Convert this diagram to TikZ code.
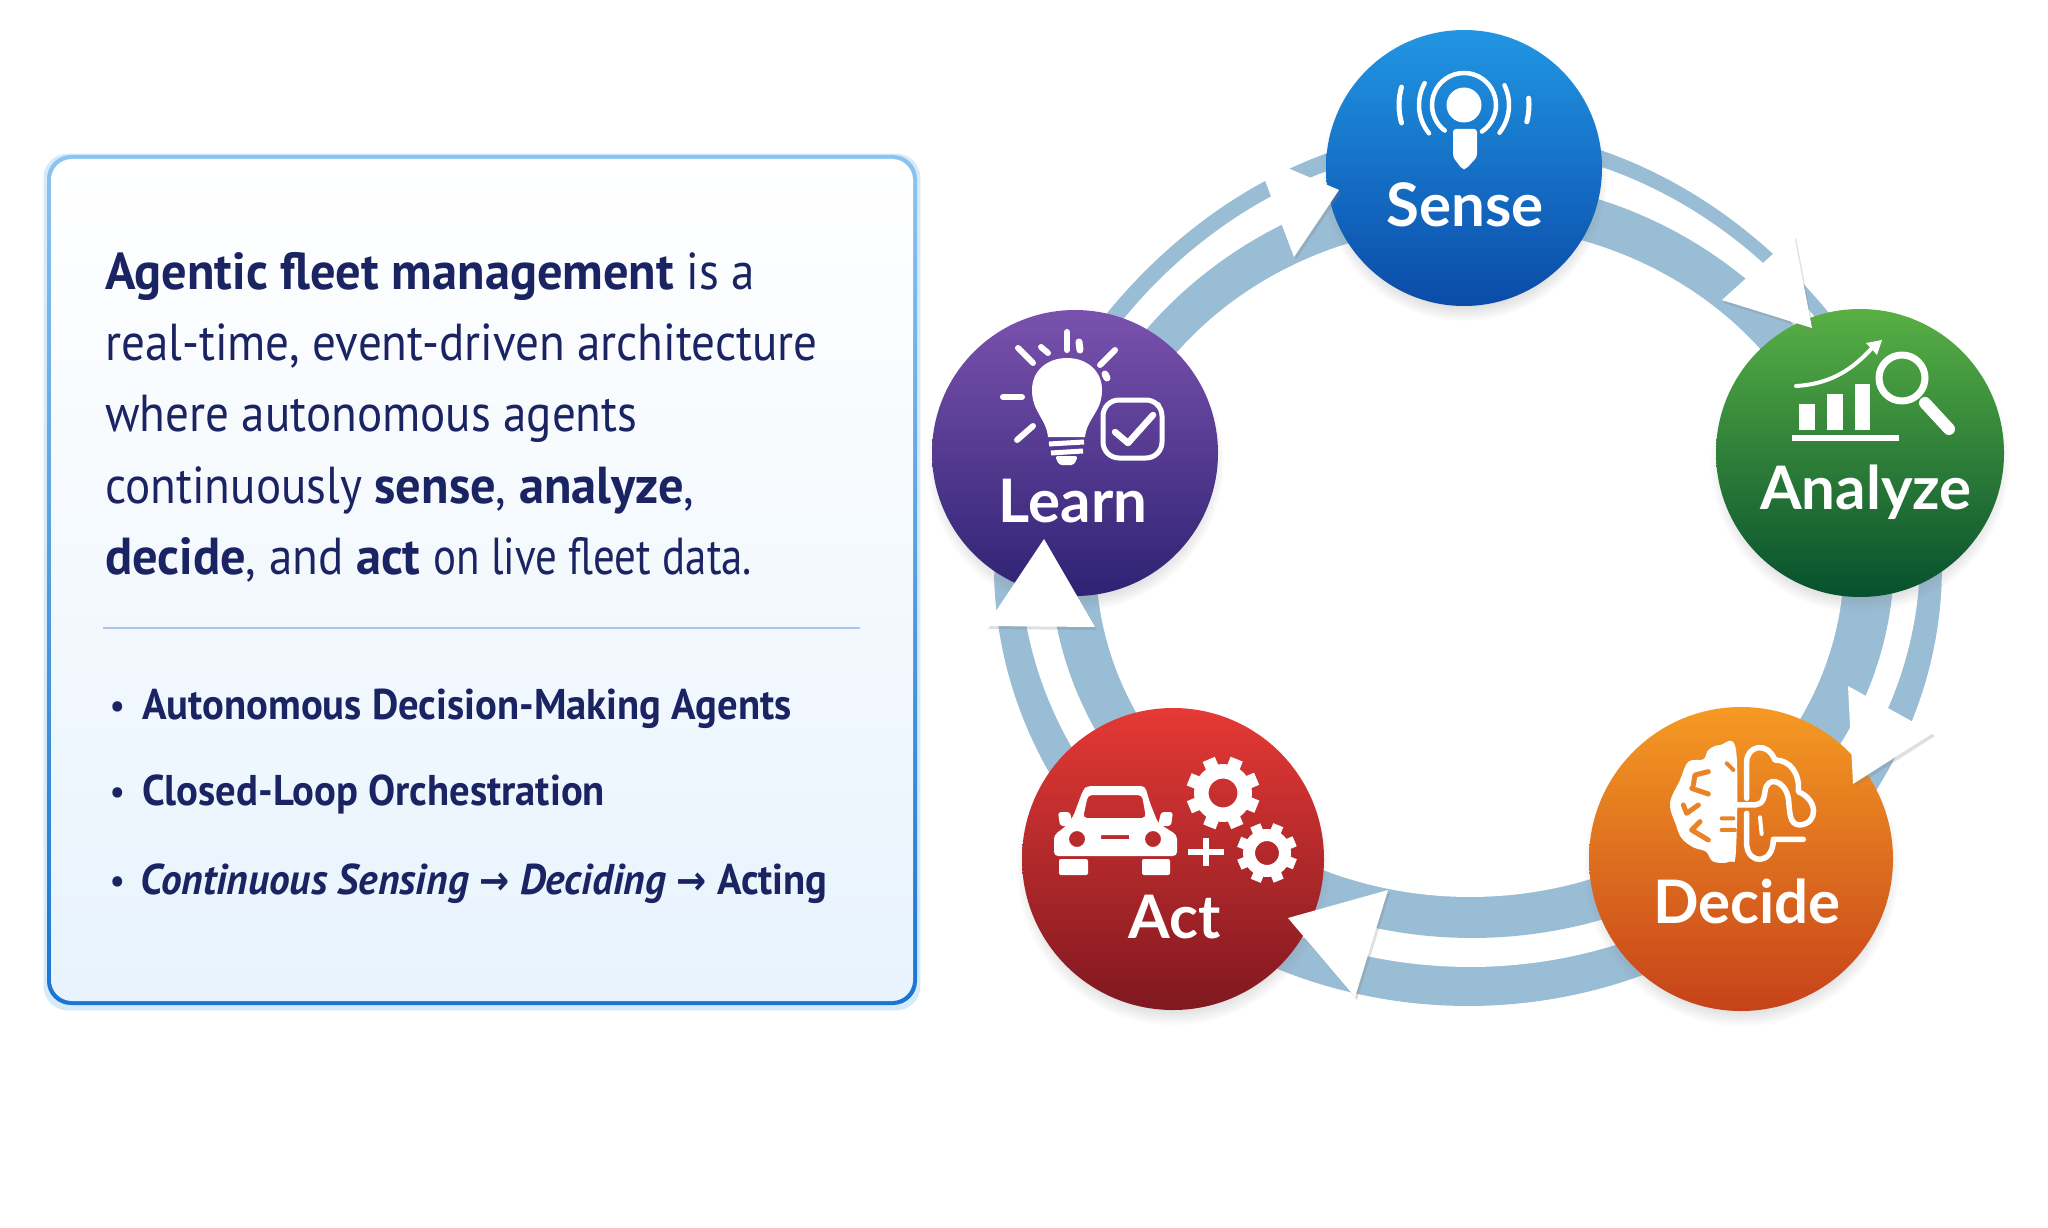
\documentclass[tikz,border=0pt]{standalone}
\usepackage{fontspec}
\usetikzlibrary{shadows,positioning}
\newfontfamily\panelfont[UprightFeatures={FakeStretch=0.905},BoldFeatures={FakeStretch=0.97}]{PT Sans}
\newfontfamily\tightfont[FakeStretch=0.825]{PT Sans}
\newfontfamily\listfont[BoldFeatures={FakeStretch=0.945},BoldItalicFeatures={FakeStretch=0.96}]{PT Sans}
\newfontfamily\arrowfont[FakeStretch=0.9]{DejaVu Sans}
\newfontfamily\stagefont{Lato}
\definecolor{navy}{HTML}{1B2463}
\definecolor{ringblue}{HTML}{9ABDD6}
\definecolor{orangecut}{HTML}{EA8226}
\definecolor{rimtop}{HTML}{8CC4F0}
\definecolor{rimbottom}{HTML}{1976D2}
\definecolor{panelmid}{HTML}{F8FBFE}
\definecolor{panelbottom}{HTML}{E8F3FD}
\definecolor{rulecolor}{HTML}{A9C6E8}
\definecolor{senseA}{HTML}{2196E3}
\definecolor{senseB}{HTML}{0A74CF}
\definecolor{senseC}{HTML}{0A4BA8}
\definecolor{analyzeA}{HTML}{58B044}
\definecolor{analyzeB}{HTML}{2A8A3A}
\definecolor{analyzeC}{HTML}{07502E}
\definecolor{decideA}{HTML}{F59A23}
\definecolor{decideB}{HTML}{E27A26}
\definecolor{decideC}{HTML}{C6421A}
\definecolor{actA}{HTML}{E53935}
\definecolor{actB}{HTML}{BE2A2E}
\definecolor{actC}{HTML}{7F1820}
\definecolor{learnA}{HTML}{7A52AD}
\definecolor{learnB}{HTML}{523A94}
\definecolor{learnC}{HTML}{2E2273}
% small cog: centre x, y, tooth radius, body radius, hole radius
\newcommand{\cogicon}[5]{
  \begin{scope}[shift={(#1,#2)}]
    \draw [white, line width=#4-#5] (0,0) circle [radius=(#4+#5)/2];
    \foreach \a in {0,45,...,315}
      \draw [white, line width=0.36*#3, line cap=butt] (\a+22:#4-2) -- (\a+22:#3);
  \end{scope}
}
% egg shaped loop: centre x, y, half width, half height, narrowing of the upper half
\newcommand{\ringloop}[5]{plot [domain=0:360, samples=120, smooth] ({#1+#3*cos(\x)*(1+#5*min(sin(\x),0))},{#2+#4*sin(\x)}) -- cycle}
\begin{document}
\begin{tikzpicture}
  [x=1pt,y=-1pt,
  stage/.style n args={3}{circle, inner sep=0pt, top color=#1, middle color=#2, bottom color=#3, circular drop shadow={shadow xshift=0pt,shadow yshift=-9pt,shadow scale=1.04,opacity=0.35}},
  stagetext/.style={anchor=base, inner sep=0pt, text=white, font=\stagefont\bfseries\fontsize{60}{60}\selectfont},
  headtip/.style={fill=white, drop shadow={shadow xshift=2pt,shadow yshift=-3pt,opacity=0.25}},
  icon/.style={white, line cap=round, line join=round},
  itemtext/.style={anchor=base west, inner sep=0pt, text=navy, font=\listfont\bfseries\fontsize{43}{50}\selectfont},
  itemdot/.style={anchor=base west, inner sep=0pt, text=navy, font=\listfont\bfseries\fontsize{34}{40}\selectfont}]
  \useasboundingbox (0,0) rectangle (2048,1228);

  % text panel
  \node (panelrim) [rectangle, minimum width=870, minimum height=850, rounded corners=24, top color=rimtop, bottom color=rimbottom, draw=none, drop shadow={shadow xshift=0pt,shadow yshift=-2pt,shadow scale=1.008,fill=rimtop,opacity=0.35}] at (482,580) {};
  \node (panel) [rectangle, minimum width=862, minimum height=842, rounded corners=21, top color=white, middle color=panelmid, bottom color=panelbottom] at (482,580) {};
  \node (intro) [anchor=north west, inner sep=0pt, align=left, text=navy, font=\panelfont\fontsize{52}{71.3}\selectfont] at (105,252)
    {\textbf{Agentic fleet management} is a\\
     real-time, event-driven architecture\\
     where autonomous agents\\
     continuously \textbf{sense}, \textbf{analyze},\\
     \textbf{decide}, and \textbf{act} {\tightfont on live fleet data.}};
  \coordinate (ruleleft) at (103,628);
  \coordinate (ruleright) at (860,628);
  \draw [rulecolor, line width=2pt] (ruleleft) -- (ruleright);
  \node (dot1) [itemdot] at (110,717) {•};
  \node (dot2) [itemdot] at (110,803) {•};
  \node (dot3) [itemdot] at (110,892) {•};
  \node (item1) [itemtext] at (142,719) {Autonomous Decision-Making Agents};
  \node (item2) [itemtext] at (142,805) {Closed-Loop Orchestration};
  \node (item3) [itemtext] at (140,894) {\itshape Continuous Sensing {\upshape\arrowfont\fontsize{40}{40}\selectfont→} Deciding {\upshape\arrowfont\fontsize{40}{40}\selectfont→} \upshape Acting};

  % ring
  \fill [ringblue] \ringloop{1468}{567}{474}{439}{0.115};
  \fill [white] \ringloop{1470}{556}{450}{411}{0.1};
  \fill [ringblue] \ringloop{1472}{559}{422}{379}{0.05};
  \fill [white] \ringloop{1470}{561}{374}{336}{0};

  % the five stages
  \node (sense) [stage={senseA}{senseB}{senseC}, minimum size=276] at (1464,168) {};
  \node (analyze) [stage={analyzeA}{analyzeB}{analyzeC}, minimum size=288] at (1860,453) {};
  \node (decide) [stage={decideA}{decideB}{decideC}, minimum size=304] at (1741,859) {};
  \node (act) [stage={actA}{actB}{actC}, minimum size=302] at (1173,859) {};
  \node (learn) [stage={learnA}{learnB}{learnC}, minimum size=286] at (1075,453) {};

  \node (sensetext) [stagetext] at (1465,226) {Sense};
  \node (analyzetext) [stagetext] at (1866,509) {Analyze};
  \node (decidetext) [stagetext] at (1747,923) {Decide};
  \node (acttext) [stagetext] at (1175,938) {Act};
  \node (learntext) [stagetext] at (1073,522) {Learn};

  % arrowheads on the ring
  \fill [headtip] (1255,154) -- (1339,190) -- (1294,257) -- cycle;
  \fill [headtip] (1794,235) -- (1812,328) -- (1722,300) -- cycle;
  \fill [headtip] (1848,686) -- (1933,733) -- (1853,784) -- cycle;
  \fill [headtip] (1388,890) -- (1288,918) -- (1355,997) -- cycle;
  \fill [headtip] (986,626) -- (1044,539) -- (1095,627) -- cycle;

  % icon of sense
  \begin{scope}[icon]
    \fill (1464,105) circle [radius=17.5];
    \draw [line width=4.5pt] (1464,105) ++(127:32) arc [start angle=127, end angle=416, radius=32];
    \draw [line width=4.5pt] (1464,105) ++(141:45) arc [start angle=141, end angle=209, radius=45];
    \draw [line width=4.5pt] (1464,105) ++(-26:45) arc [start angle=-26, end angle=38, radius=45];
    \draw [line width=5pt] (1464,105) ++(164:65) arc [start angle=164, end angle=196, radius=65];
    \draw [line width=5pt] (1464,105) ++(-6:65) arc [start angle=-6, end angle=15, radius=65];
    \fill [rounded corners=3] (1453,129) -- (1477,129) -- (1477,157) -- (1466,169) -- (1462,169) -- (1453,157) -- cycle;
  \end{scope}

  % icon of analyze
  \begin{scope}[icon]
    \fill (1799,404) rectangle (1815,430);
    \fill (1827,394) rectangle (1843,430);
    \fill (1855,384) rectangle (1870,430);
    \draw [line width=5.5pt, line cap=butt] (1792,438) -- (1899,438);
    \draw [line width=4pt] (1796,386) .. controls (1830,384) and (1852,370) .. (1872,348);
    \fill (1882,340) -- (1866,343) -- (1877,355) -- cycle;
    \draw [line width=7pt] (1902,378) circle [radius=23];
    \draw [line width=12pt] (1925,403) -- (1949,429);
  \end{scope}

  % icon of decide
  \begin{scope}[icon, shift={(1650,730)}, x=0.3333pt, y=-0.3333pt]
    \fill plot [smooth cycle, tension=0.6] coordinates {(258,60) (210,45) (175,60) (160,88) (115,95) (90,150) (60,220) (78,285) (95,325) (130,352) (168,365) (190,395) (240,395) (258,360)};
    \draw [orangecut, line width=5pt] (175,125) -- (135,135) -- (130,165) (125,175) -- (175,192);
    \draw [orangecut, line width=5pt] (100,225) -- (110,250) -- (145,225) (150,275) -- (125,300) -- (175,330);
    \draw [orangecut, line width=4pt] (215,265) -- (250,265) (255,300) -- (215,300) (230,100) -- (250,120);
    \draw [line width=5.5pt] (290,205) -- (290,95) .. controls (290,50) and (350,30) .. (375,90) .. controls (420,90) and (450,130) .. (445,185) .. controls (505,210) and (505,280) .. (450,285) .. controls (415,285) and (420,240) .. (415,205) .. controls (405,150) and (350,135) .. (345,185) .. controls (340,225) and (325,225) .. (300,225) -- (165,225);
    \draw [line width=5.5pt] (290,250) -- (290,345) .. controls (295,405) and (370,405) .. (370,328) -- (460,328);
    \draw [line width=4pt] (330,262) -- (335,312);
  \end{scope}

  % icon of act
  \begin{scope}[icon]
    \fill [rounded corners=3] (1058,812) -- (1070,812) -- (1073,826) -- (1060,826) -- cycle;
    \fill [rounded corners=3] (1173,812) -- (1161,812) -- (1158,826) -- (1171,826) -- cycle;
    \fill [even odd rule, rounded corners=4] (1054,856) -- (1054,835) -- (1065,827) -- (1073,817) -- (1083,790) -- (1087,786) -- (1145,786) -- (1150,803) -- (1158,823) -- (1177,835) -- (1177,856) -- cycle
      (1083,818) -- (1088,795) -- (1142,795) -- (1146,818) -- cycle
      [sharp corners] (1101,835) rectangle (1129,839)
      (1077,839) circle [radius=8] (1153,839) circle [radius=8];
    \fill [rounded corners=2] (1059,859) rectangle (1088,875);
    \fill [rounded corners=2] (1142,859) rectangle (1170,875);
    \draw [line width=6pt, line cap=butt] (1188,852) -- (1224,852) (1206,838) -- (1206,866);
    \cogicon{1223}{793}{36.5}{29}{14.5}
    \cogicon{1267}{853}{30}{24}{12}
  \end{scope}

  % icon of learn
  \begin{scope}[icon]
    \fill (1048,437) .. controls (1046,418) and (1032,412) .. (1032,390) .. controls (1032,370) and (1048,358) .. (1067,358) .. controls (1086,358) and (1102,370) .. (1102,390) .. controls (1102,412) and (1087,418) .. (1085,437) -- cycle;
    \draw [line width=5pt, line cap=butt] (1049,444) -- (1084,442) (1051,453) -- (1083,451);
    \fill [rounded corners=3] (1055,456) -- (1078,456) -- (1074,465) -- (1059,465) -- cycle;
    \foreach \ax/\ay/\bx/\by in {1018/348/1033/363, 1041/347/1048/353, 1067/332/1067/350, 1115/350/1100/365, 1003/397/1022/397, 1033/426/1017/440}
      \draw [line width=6pt] (\ax,\ay) -- (\bx,\by);
    \draw [line width=7pt] (1079,342) -- (1080,350);
    \draw [line width=7pt] (1105,374) -- (1107,378);
    \draw [line width=5pt, rounded corners=16] (1103,400) rectangle (1162,458);
    \draw [line width=6.5pt] (1115,432) -- (1128,443) -- (1153,415);
    \fill (1158,405) circle [radius=3];
  \end{scope}
\end{tikzpicture}
\end{document}
